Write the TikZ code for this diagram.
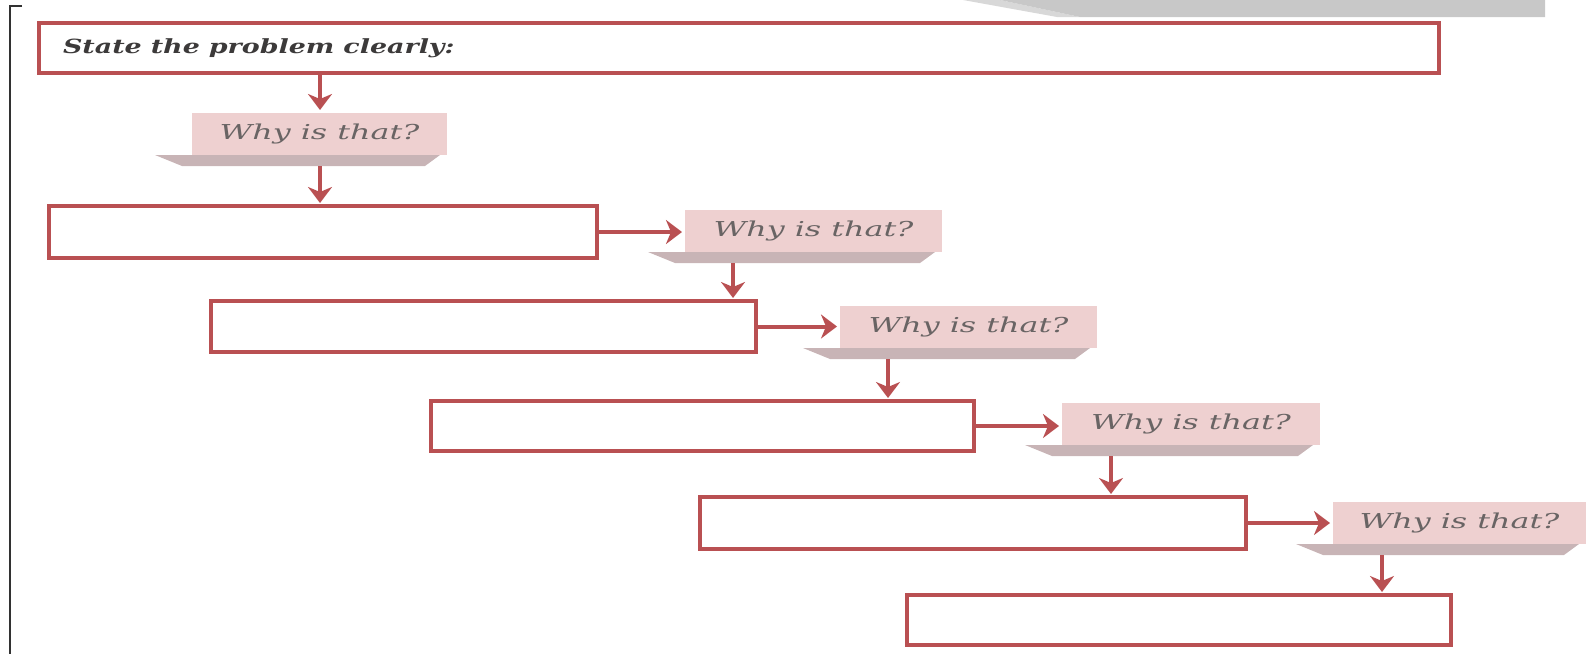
\documentclass[tikz,border=0pt]{standalone}
\usepackage{fontspec}
\setmainfont{DejaVu Serif}
\usepackage{graphicx}
\usetikzlibrary{arrows.meta,calc}
\definecolor{boxred}{RGB}{185,80,82}
\definecolor{whyfill}{RGB}{238,208,208}
\definecolor{whyshade}{RGB}{200,180,182}
\definecolor{whytext}{RGB}{105,100,100}
\definecolor{statetext}{RGB}{60,58,58}
\definecolor{topgray}{RGB}{200,200,200}
\definecolor{bracketc}{RGB}{50,50,50}
\newcommand\whyshadow[1]{\fill[whyshade] ($(#1.south west)+(-37,0)$) -- ($(#1.south east)+(-7,0)$) -- ($(#1.south east)+(-22,11)$) -- ($(#1.south west)+(-10,11)$) -- cycle;}
\newcommand\whytxt{\scalebox{1.55}[1]{Why is that?}}
\begin{document}
\begin{tikzpicture}[x=1pt,y=-1pt,
  box/.style={draw=boxred, line width=4pt, fill=white, inner sep=0pt, outer sep=0pt},
  why/.style={fill=whyfill, inner sep=0pt, outer sep=0pt, minimum height=42pt, text=whytext, font=\fontsize{20.5}{20.5}\selectfont\itshape},
  arr/.style={draw=boxred, line width=4pt, shorten >=3pt, -{Stealth[length=16pt,width=24pt,inset=5pt]}}]
\useasboundingbox (0,0) rectangle (1586,654);
% top decoration and left bracket
\fill[topgray!70] (963,0) -- (1000,0) -- (1080,17) -- (1057,17) -- cycle;
\fill[topgray] (1000,0) -- (1545,0) -- (1545,17) -- (1080,17) -- cycle;
\draw[bracketc, line width=2.5pt] (22,6) -- (10,6) -- (10,654);
% boxes
\node[box, minimum width=1400pt, minimum height=50pt, text width=1352pt, inner xsep=24pt, align=left, text=statetext, font=\fontsize{19.5}{19.5}\selectfont\bfseries\itshape] (b0) at (739,48) {\scalebox{1.38}[1]{State the problem clearly:}};
\node[box, minimum width=548pt, minimum height=52pt] (b1) at (323,232) {};
\node[box, minimum width=545pt, minimum height=51pt] (b2) at (483.5,326.5) {};
\node[box, minimum width=543pt, minimum height=50pt] (b3) at (702.5,426) {};
\node[box, minimum width=546pt, minimum height=52pt] (b4) at (973,523) {};
\node[box, minimum width=544pt, minimum height=50pt] (b5) at (1179,620) {};
% why boxes
\node[why, minimum width=255pt] (w1) at (319.5,134) {\whytxt};
\node[why, minimum width=257pt] (w2) at (813.5,231) {\whytxt};
\node[why, minimum width=257pt] (w3) at (968.5,327) {\whytxt};
\node[why, minimum width=258pt] (w4) at (1191,424) {\whytxt};
\node[why, minimum width=253pt] (w5) at (1459.5,523) {\whytxt};
\whyshadow{w1}
\whyshadow{w2}
\whyshadow{w3}
\whyshadow{w4}
\whyshadow{w5}
% arrow start points below the shadows
\coordinate (s1) at (320,166);
\coordinate (s2) at (733,263);
\coordinate (s3) at (888,359);
\coordinate (s4) at (1111,456);
\coordinate (s5) at (1382,555);
% connectors
\draw[arr] (b0.south -| s1) -- (w1.north -| s1);
\draw[arr] (s1) -- (b1.north -| s1);
\draw[arr] (b1.east) -- (b1.east -| w2.west);
\draw[arr] (s2) -- (b2.north -| s2);
\draw[arr] (b2.east) -- (b2.east -| w3.west);
\draw[arr] (s3) -- (b3.north -| s3);
\draw[arr] (b3.east) -- (b3.east -| w4.west);
\draw[arr] (s4) -- (b4.north -| s4);
\draw[arr] (b4.east) -- (b4.east -| w5.west);
\draw[arr] (s5) -- (b5.north -| s5);
\end{tikzpicture}
\end{document}
